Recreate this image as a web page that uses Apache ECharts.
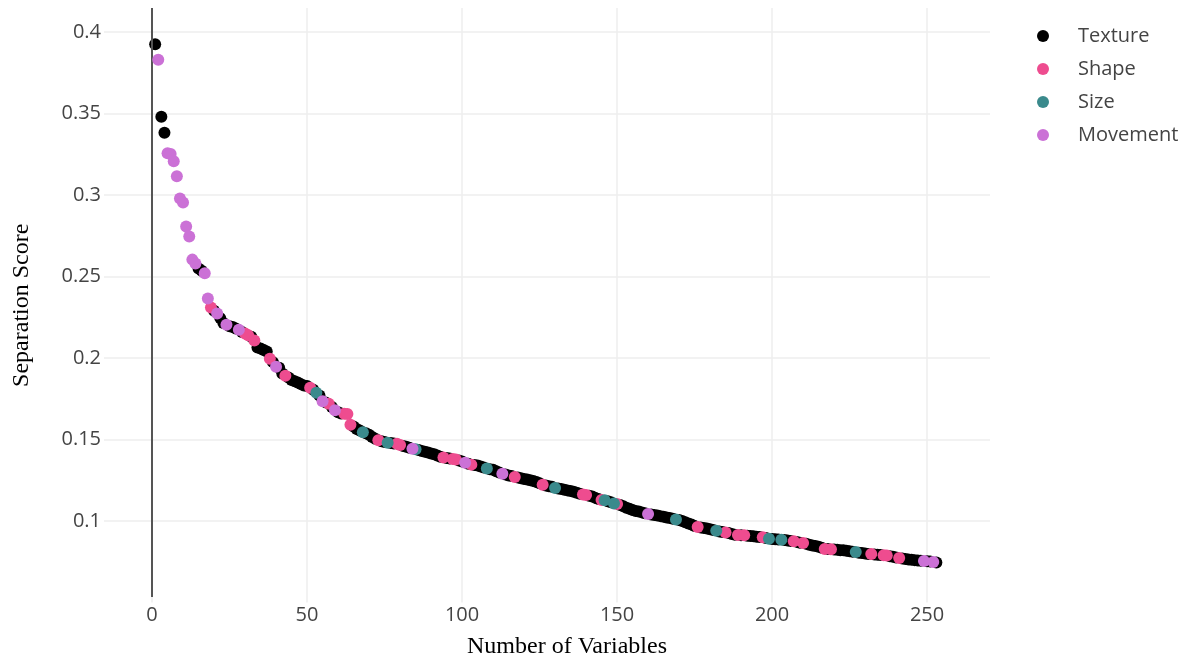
<!DOCTYPE html>
<html>
<head>
<meta charset="utf-8">
<title>Separation Score</title>
<script src="https://cdn.jsdelivr.net/npm/echarts@6/dist/echarts.min.js"></script>
<style>
  html, body { margin: 0; padding: 0; background: #fff; }
  #chart { width: 1196px; height: 660px; }
</style>
</head>
<body>
<div id="chart"></div>
<script>
// separation score per variable, ranked (variable 1 .. 253)
var scores = [
  0.3926, 0.3830, 0.3480, 0.3382, 0.3256, 0.3252, 0.3207, 0.3115, 0.2979, 0.2955,
  0.2807, 0.2746, 0.2604, 0.2580, 0.2550, 0.2535, 0.2520, 0.2365, 0.2310, 0.2290,
  0.2273, 0.2245, 0.2215, 0.2205, 0.2195, 0.2190, 0.2182, 0.2174, 0.2160, 0.2150,
  0.2140, 0.2130, 0.2107, 0.2065, 0.2058, 0.2050, 0.2040, 0.1996, 0.1975, 0.1947,
  0.1940, 0.1905, 0.1891, 0.1880, 0.1865, 0.1858, 0.1850, 0.1840, 0.1832, 0.1828,
  0.1818, 0.1805, 0.1787, 0.1770, 0.1735, 0.1728, 0.1720, 0.1700, 0.1680, 0.1668,
  0.1660, 0.1658, 0.1656, 0.1590, 0.1580, 0.1565, 0.1555, 0.1545, 0.1538, 0.1530,
  0.1515, 0.1505, 0.1495, 0.1490, 0.1485, 0.1480, 0.1478, 0.1476, 0.1474, 0.1466,
  0.1460, 0.1455, 0.1450, 0.1443, 0.1440, 0.1436, 0.1430, 0.1425, 0.1420, 0.1415,
  0.1410, 0.1402, 0.1395, 0.1390, 0.1386, 0.1383, 0.1380, 0.1378, 0.1372, 0.1365,
  0.1358, 0.1352, 0.1346, 0.1343, 0.1340, 0.1335, 0.1328, 0.1322, 0.1318, 0.1314,
  0.1305, 0.1298, 0.1290, 0.1285, 0.1280, 0.1276, 0.1270, 0.1267, 0.1262, 0.1258,
  0.1254, 0.1250, 0.1246, 0.1240, 0.1232, 0.1222, 0.1218, 0.1214, 0.1210, 0.1203,
  0.1200, 0.1196, 0.1192, 0.1188, 0.1184, 0.1180, 0.1174, 0.1168, 0.1162, 0.1160,
  0.1155, 0.1150, 0.1142, 0.1135, 0.1129, 0.1127, 0.1122, 0.1115, 0.1108, 0.1105,
  0.1098, 0.1090, 0.1082, 0.1075, 0.1068, 0.1062, 0.1058, 0.1053, 0.1048, 0.1043,
  0.1040, 0.1037, 0.1034, 0.1030, 0.1026, 0.1022, 0.1018, 0.1014, 0.1010, 0.1006,
  0.1000, 0.0993, 0.0985, 0.0978, 0.0970, 0.0963, 0.0960, 0.0957, 0.0954, 0.0950,
  0.0945, 0.0940, 0.0936, 0.0932, 0.0930, 0.0926, 0.0921, 0.0916, 0.0914, 0.0913,
  0.0912, 0.0910, 0.0908, 0.0906, 0.0904, 0.0902, 0.0901, 0.0896, 0.0891, 0.0889,
  0.0888, 0.0886, 0.0885, 0.0883, 0.0880, 0.0878, 0.0876, 0.0872, 0.0867, 0.0865,
  0.0860, 0.0855, 0.0850, 0.0846, 0.0842, 0.0836, 0.0829, 0.0828, 0.0827, 0.0825,
  0.0823, 0.0821, 0.0820, 0.0818, 0.0815, 0.0812, 0.0810, 0.0806, 0.0803, 0.0800,
  0.0798, 0.0797, 0.0795, 0.0793, 0.0791, 0.0790, 0.0788, 0.0784, 0.0780, 0.0776,
  0.0773, 0.0770, 0.0767, 0.0764, 0.0762, 0.0760, 0.0758, 0.0756, 0.0755, 0.0753,
  0.0751, 0.0749, 0.0746
]

// which variables (1-based rank) belong to each group; everything else is Texture
var shapeVars = [19, 30, 31, 33, 38, 43, 51, 57, 62, 63, 64, 73, 79, 80, 94, 97, 98, 103,
  117, 126, 139, 140, 145, 150, 176, 185, 189, 191, 197, 207, 210, 217, 219, 232, 236, 237, 241]
var sizeVars = [53, 68, 76, 85, 108, 130, 146, 149, 169, 182, 199, 203, 227]
var movementVars = [2, 5, 6, 7, 8, 9, 10, 11, 12, 13, 14, 17, 18, 21, 24, 28, 40, 55, 59,
  84, 101, 113, 160, 249, 252]

var groups = ['Texture', 'Shape', 'Size', 'Movement']
var colors = ['#000000', '#ee4c8f', '#3a8a8c', '#cb71d6']

function groupOf(n) {
  if (shapeVars.indexOf(n) >= 0) return 'Shape'
  if (sizeVars.indexOf(n) >= 0) return 'Size'
  if (movementVars.indexOf(n) >= 0) return 'Movement'
  return 'Texture'
}

var seriesData = { Texture: [], Shape: [], Size: [], Movement: [] }
scores.forEach(function (v, i) {
  seriesData[groupOf(i + 1)].push([i + 1, v])
})

var font = '"Open Sans", "Noto Sans", sans-serif'
var serif = '"Liberation Serif", "Times New Roman", serif'
var yTop = 0.4148
var yBottom = 0.0534 // where the visible plot area ends

var chart = echarts.init(document.getElementById('chart'))
var option = {
  animation: false,
  color: colors,
  grid: { left: 104, right: 206, top: 8, bottom: 57.5, outerBoundsMode: 'none' },
  legend: {
    orient: 'vertical',
    left: 1032,
    top: 21,
    icon: 'circle',
    itemWidth: 12,
    itemHeight: 12,
    itemGap: 13,
    data: groups,
    textStyle: { fontFamily: font, fontSize: 20, color: '#444', lineHeight: 20, padding: [0, 0, 0, 24] }
  },
  xAxis: {
    type: 'value',
    min: -15.5,
    max: 270.3,
    splitNumber: 5,
    name: 'Number of Variables',
    nameLocation: 'middle',
    nameGap: 32,
    nameTextStyle: { fontFamily: serif, fontSize: 24, color: '#000', padding: [0, 0, 0, 40] },
    axisLine: { show: false },
    axisTick: { show: false },
    axisLabel: { showMinLabel: false, showMaxLabel: false, margin: 3, fontFamily: font, fontSize: 20, color: '#444' },
    splitLine: { showMinLine: false, showMaxLine: false, lineStyle: { color: '#eeeeee', width: 1.5 } }
  },
  yAxis: {
    type: 'value',
    min: 0.05,
    max: yTop,
    interval: 0.05,
    name: 'Separation Score',
    nameLocation: 'middle',
    nameGap: 70,
    nameTextStyle: { fontFamily: serif, fontSize: 24, color: '#000' },
    axisLine: { show: false },
    axisTick: { show: false },
    axisLabel: {
      margin: 3,
      fontFamily: font,
      fontSize: 20,
      color: '#444',
      formatter: function (v) {
        if (v < 0.09 || v > 0.401) return ''
        return String(parseFloat(v.toFixed(3)))
      }
    },
    splitLine: { showMinLine: false, showMaxLine: false, lineStyle: { color: '#eeeeee', width: 1.5 } }
  },
  series: groups.map(function (g, k) {
    var s = {
      name: g,
      type: 'scatter',
      symbolSize: 12,
      z: 2 + k,
      itemStyle: { color: colors[k], opacity: 1 },
      data: seriesData[g]
    }
    if (k === 0) {
      // zero line on the x axis
      s.markLine = {
        silent: true,
        symbol: 'none',
        label: { show: false },
        lineStyle: { color: '#555', width: 2, type: 'solid' },
        data: [[{ coord: [0, yBottom] }, { coord: [0, yTop] }]]
      }
    }
    return s
  })
}
chart.setOption(option)
</script>
</body>
</html>
